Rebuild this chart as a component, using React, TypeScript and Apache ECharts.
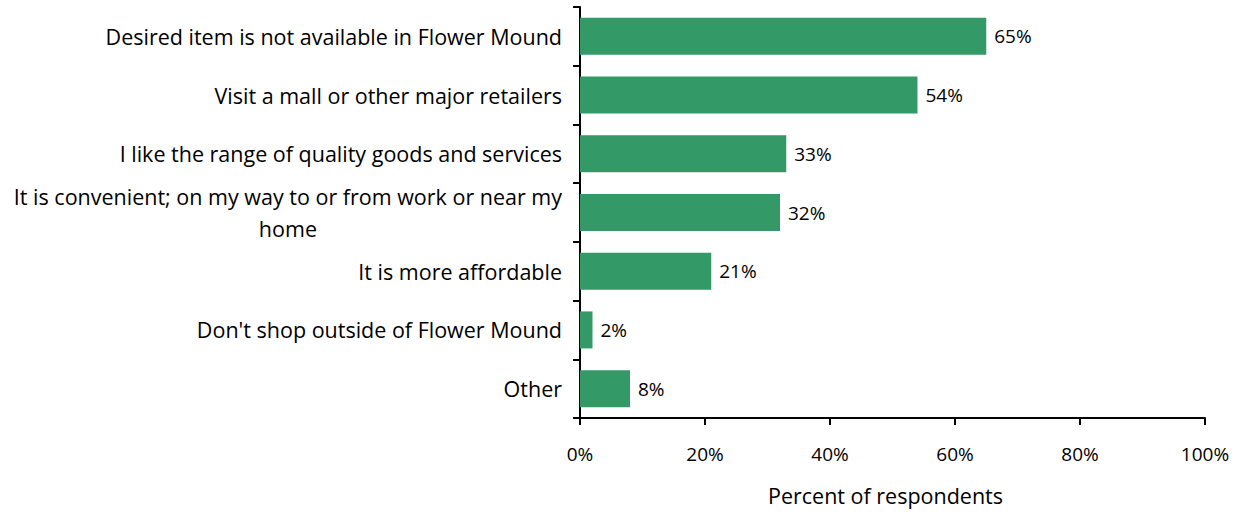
import React, { useEffect, useRef } from "react";
import * as echarts from "echarts";

const categories: string[] = [
  "Desired item is not available in Flower Mound",
  "Visit a mall or other major retailers",
  "I like the range of quality goods and services",
  "It is convenient; on my way to or from work or near my\nhome",
  "It is more affordable",
  "Don't shop outside of Flower Mound",
  "Other",
];
const values: number[] = [65, 54, 33, 32, 21, 2, 8];
const xTicks: number[] = [0, 20, 40, 60, 80, 100];
const axisTitle = "Percent of respondents";

const FONT = "Open Sans";
const BAR = "#339966";

export default function App() {
  const ref = useRef<HTMLDivElement>(null);
  useEffect(() => {
    if (!ref.current) return;
    const chart = echarts.init(ref.current, null, { renderer: "svg" });
    chart.setOption({
      animation: false,
      grid: { left: 580, width: 625, top: 7, height: 411, containLabel: false },
      xAxis: {
        type: "value",
        min: xTicks[0],
        max: xTicks[xTicks.length - 1],
        interval: 20,
        name: axisTitle,
        nameLocation: "middle",
        nameGap: 66,
        nameTextStyle: {
          fontFamily: FONT,
          fontSize: 21.5,
          color: "#000",
          padding: [0, 14, 0, 0],
        },
        axisLine: { show: true, lineStyle: { color: "#000", width: 2 } },
        axisTick: { show: true, length: 7, lineStyle: { color: "#000", width: 2 } },
        axisLabel: {
          margin: 26,
          fontFamily: FONT,
          fontSize: 19,
          color: "#000",
          formatter: (v: number) => v + "%",
        },
        splitLine: { show: false },
      },
      yAxis: {
        type: "category",
        inverse: true,
        data: categories,
        axisLine: { show: true, lineStyle: { color: "#000", width: 2 } },
        axisTick: { show: true, length: 7, lineStyle: { color: "#000", width: 2 } },
        axisLabel: {
          margin: 18,
          fontFamily: FONT,
          fontSize: 21.5,
          color: "#000",
          lineHeight: 32,
          formatter: (v: string) =>
            v
              .split("\n")
              .map((s) => "{c|" + s + "}")
              .join("\n"),
          rich: {
            c: { align: "center", fontFamily: FONT, fontSize: 21.5, color: "#000", lineHeight: 32 },
          },
        },
      },
      series: [
        {
          type: "bar",
          data: values,
          barWidth: 37,
          itemStyle: { color: BAR },
          label: {
            show: true,
            position: "right",
            distance: 8,
            fontFamily: FONT,
            fontSize: 19,
            color: "#000",
            formatter: (p: any) => p.value + "%",
          },
        },
      ],
    });
    return () => chart.dispose();
  }, []);
  return (
    <div
      ref={ref}
      style={{ position: "fixed", left: 0, top: 0, width: 1238, height: 512, background: "#fff" }}
    />
  );
}
